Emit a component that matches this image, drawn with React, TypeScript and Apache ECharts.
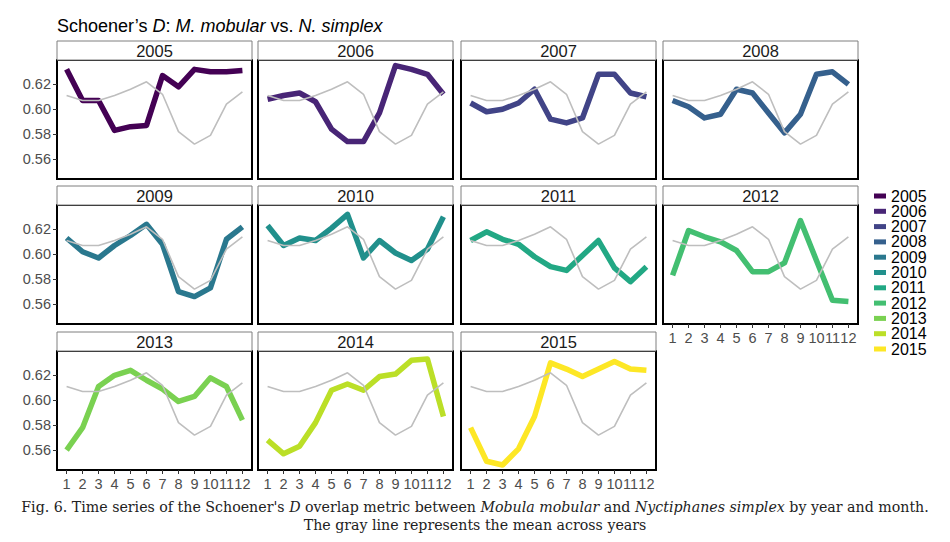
import React, { useEffect, useRef } from "react";
import * as echarts from "echarts";

const years = ["2005", "2006", "2007", "2008", "2009", "2010", "2011", "2012", "2013", "2014", "2015"];
const months = [1, 2, 3, 4, 5, 6, 7, 8, 9, 10, 11, 12];
const yTicks = [0.56, 0.58, 0.6, 0.62];

const meanAcrossYears = [0.611, 0.607, 0.607, 0.611, 0.616, 0.622, 0.612, 0.582, 0.572, 0.579, 0.604, 0.614];

const d2005 = [0.632, 0.607, 0.607, 0.583, 0.586, 0.587, 0.627, 0.618, 0.632, 0.63, 0.63, 0.631];
const d2006 = [0.608, 0.611, 0.613, 0.606, 0.584, 0.574, 0.574, 0.597, 0.635, 0.632, 0.628, 0.612];
const d2007 = [0.605, 0.598, 0.6, 0.605, 0.616, 0.592, 0.589, 0.593, 0.628, 0.628, 0.613, 0.61];
const d2008 = [0.607, 0.602, 0.593, 0.596, 0.616, 0.613, 0.597, 0.581, 0.596, 0.628, 0.63, 0.62];
const d2009 = [0.613, 0.602, 0.597, 0.607, 0.615, 0.624, 0.608, 0.57, 0.566, 0.573, 0.612, 0.622];
const d2010 = [0.623, 0.607, 0.613, 0.611, 0.621, 0.632, 0.597, 0.611, 0.601, 0.595, 0.604, 0.63];
const d2011 = [0.611, 0.618, 0.612, 0.608, 0.598, 0.59, 0.587, 0.599, 0.611, 0.589, 0.578, 0.59];
const d2012 = [0.583, 0.619, 0.614, 0.61, 0.603, 0.586, 0.586, 0.593, 0.627, 0.595, 0.563, 0.562];
const d2013 = [0.56, 0.578, 0.611, 0.62, 0.624, 0.616, 0.609, 0.599, 0.603, 0.618, 0.611, 0.584];
const d2014 = [0.568, 0.557, 0.563, 0.582, 0.608, 0.613, 0.608, 0.619, 0.621, 0.632, 0.633, 0.587];
const d2015 = [0.578, 0.551, 0.548, 0.561, 0.587, 0.63, 0.625, 0.619, 0.625, 0.631, 0.625, 0.624];

const yearValues = [d2005, d2006, d2007, d2008, d2009, d2010, d2011, d2012, d2013, d2014, d2015];

const viridis = ["#440154", "#482576", "#414487", "#35608D", "#2A788E", "#21908C", "#22A884", "#43BF71", "#7AD151", "#BBDF27", "#FDE725"];

const colLeft = [57, 258, 461, 663];
const rowTop = [60, 205, 351];
const panelW = 195;
const panelH = 119;
const stripH = 19;
const SANS = "Liberation Sans, Arial, Helvetica, sans-serif";
const SERIF = "DejaVu Serif, serif";

export default function App() {
  const ref = useRef<HTMLDivElement>(null);
  useEffect(() => {
    if (!ref.current) return;
    const chart = echarts.init(ref.current, undefined, { renderer: "svg" });
    const grids: any[] = [];
    const xAxes: any[] = [];
    const yAxes: any[] = [];
    const series: any[] = [];
    const graphics: any[] = [];

    years.forEach((yr, i) => {
      const c = i % 4;
      const r = Math.floor(i / 4);
      const left = colLeft[c];
      const top = rowTop[r];
      grids.push({
        left,
        top,
        width: panelW,
        height: panelH,
        show: true,
        backgroundColor: "#fff",
        borderColor: "#000",
        borderWidth: 2,
        containLabel: false,
      });
      const showX = i >= 7;
      const showY = c === 0;
      xAxes.push({
        type: "value",
        gridIndex: i,
        min: 0.4,
        max: 12.6,
        splitLine: { show: false },
        axisLine: { show: false },
        axisTick: {
          show: showX,
          customValues: months,
          length: 4,
          lineStyle: { color: "#333", width: 1 },
        },
        axisLabel: {
          show: showX,
          customValues: months,
          margin: 6,
          fontSize: 14.5,
          fontFamily: SANS,
          color: "#4d4d4d",
          formatter: (v: number) => String(Math.round(v)),
        },
      });
      yAxes.push({
        type: "value",
        gridIndex: i,
        min: 0.544,
        max: 0.6395,
        splitLine: { show: false },
        axisLine: { show: false },
        axisTick: {
          show: showY,
          customValues: yTicks,
          length: 4,
          lineStyle: { color: "#333", width: 1 },
        },
        axisLabel: {
          show: showY,
          customValues: yTicks,
          margin: 6,
          fontSize: 14.5,
          fontFamily: SANS,
          color: "#4d4d4d",
          formatter: (v: number) => v.toFixed(2),
        },
      });
      series.push({
        name: yr,
        type: "line",
        xAxisIndex: i,
        yAxisIndex: i,
        data: months.map((m, j) => [m, yearValues[i][j]]),
        symbol: "none",
        showSymbol: false,
        itemStyle: { color: viridis[i] },
        lineStyle: { color: viridis[i], width: 5.5, join: "round", cap: "butt" },
        z: 2,
        silent: true,
      });
      series.push({
        name: "mean",
        type: "line",
        xAxisIndex: i,
        yAxisIndex: i,
        data: months.map((m, j) => [m, meanAcrossYears[j]]),
        symbol: "none",
        showSymbol: false,
        itemStyle: { color: "#bebebe" },
        lineStyle: { color: "#bebebe", width: 1.6 },
        z: 3,
        silent: true,
      });
      graphics.push({
        type: "rect",
        shape: { x: left, y: top - stripH, width: panelW, height: stripH },
        style: { fill: "#fff", stroke: "#7f7f7f", lineWidth: 1 },
        silent: true,
      });
      graphics.push({
        type: "text",
        x: left + panelW / 2,
        y: top - stripH / 2 + 0.5,
        style: {
          text: yr,
          fontSize: 16.5,
          fontFamily: SANS,
          fill: "#1a1a1a",
          align: "center",
          verticalAlign: "middle",
        },
        silent: true,
      });
    });

    graphics.push({
      type: "text",
      x: 57,
      y: 26,
      style: {
        text: "Schoener\u2019s {i|D}: {i|M. mobular} vs. {i|N. simplex}",
        fontSize: 18,
        fontFamily: SANS,
        fill: "#000",
        verticalAlign: "middle",
        rich: {
          i: { fontStyle: "italic", fontSize: 18, fontFamily: SANS, fill: "#000" },
        },
      },
      silent: true,
    });
    graphics.push({
      type: "text",
      x: 475,
      y: 507,
      style: {
        text: "Fig. 6. Time series of the Schoener's {i|D} overlap metric between {i|Mobula mobular} and {i|Nyctiphanes simplex} by year and month.",
        fontSize: 14.2,
        fontFamily: SERIF,
        fill: "#222",
        align: "center",
        verticalAlign: "middle",
        rich: {
          i: { fontStyle: "italic", fontSize: 14.2, fontFamily: SERIF, fill: "#222" },
        },
      },
      silent: true,
    });
    graphics.push({
      type: "text",
      x: 475,
      y: 525,
      style: {
        text: "The gray line represents the mean across years",
        fontSize: 14.2,
        fontFamily: SERIF,
        fill: "#222",
        align: "center",
        verticalAlign: "middle",
      },
      silent: true,
    });

    chart.setOption({
      animation: false,
      backgroundColor: "#fff",
      grid: grids,
      xAxis: xAxes,
      yAxis: yAxes,
      series,
      legend: {
        data: years,
        orient: "vertical",
        left: 874,
        top: 188,
        icon: "rect",
        itemWidth: 12,
        itemHeight: 5,
        itemGap: -0.7,
        selectedMode: false,
        padding: 0,
        textStyle: { fontSize: 16, lineHeight: 15.2, fontFamily: SANS, color: "#000" },
      },
      graphic: graphics,
    });
    return () => chart.dispose();
  }, []);
  return <div ref={ref} style={{ position: "fixed", left: 0, top: 0, width: 950, height: 542 }} />;
}
